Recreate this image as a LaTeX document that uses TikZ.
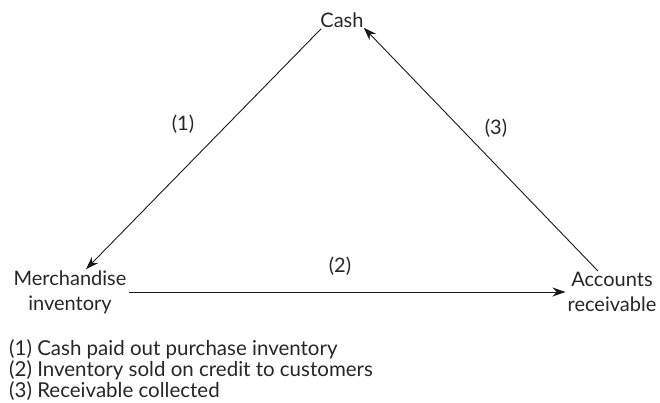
\documentclass[tikz,border=0pt]{standalone}
\usepackage{fontspec}
\setmainfont{Lato}
\usetikzlibrary{arrows.meta}
\begin{document}
\begin{tikzpicture}[x=1pt,y=-1pt,
  lbl/.style={inner sep=2pt, text=black!85, font=\fontsize{20}{25}\selectfont, align=center},
  arr/.style={line width=0.9pt, draw=black!90, -{Stealth[length=13pt,width=9pt]}}]
\useasboundingbox (0,0) rectangle (660,402);
\node[lbl] (cash) at (342,20) {Cash};
\node[lbl] (merch) at (70,292) {Merchandise\\inventory};
\node[lbl] (acc) at (612,292) {Accounts\\receivable};
\node[lbl] (l1) at (183,124) {(1)};
\node[lbl] (l2) at (340,266) {(2)};
\node[lbl] (l3) at (496,128) {(3)};
\draw[arr] ([xshift=3pt,yshift=1pt]cash.south west) -- ([xshift=16pt,yshift=-1pt]merch.north);
\draw[arr] (merch.east) -- (acc.west);
\draw[arr] ([xshift=-14pt,yshift=-1pt]acc.north) -- ([xshift=-2pt,yshift=2pt]cash.south east);
\node[lbl, align=left, anchor=north west, font=\fontsize{20.5}{21}\selectfont] (legend) at (7,337)
  {(1) Cash paid out purchase inventory\\(2) Inventory sold on credit to customers\\(3) Receivable collected};
\end{tikzpicture}
\end{document}
